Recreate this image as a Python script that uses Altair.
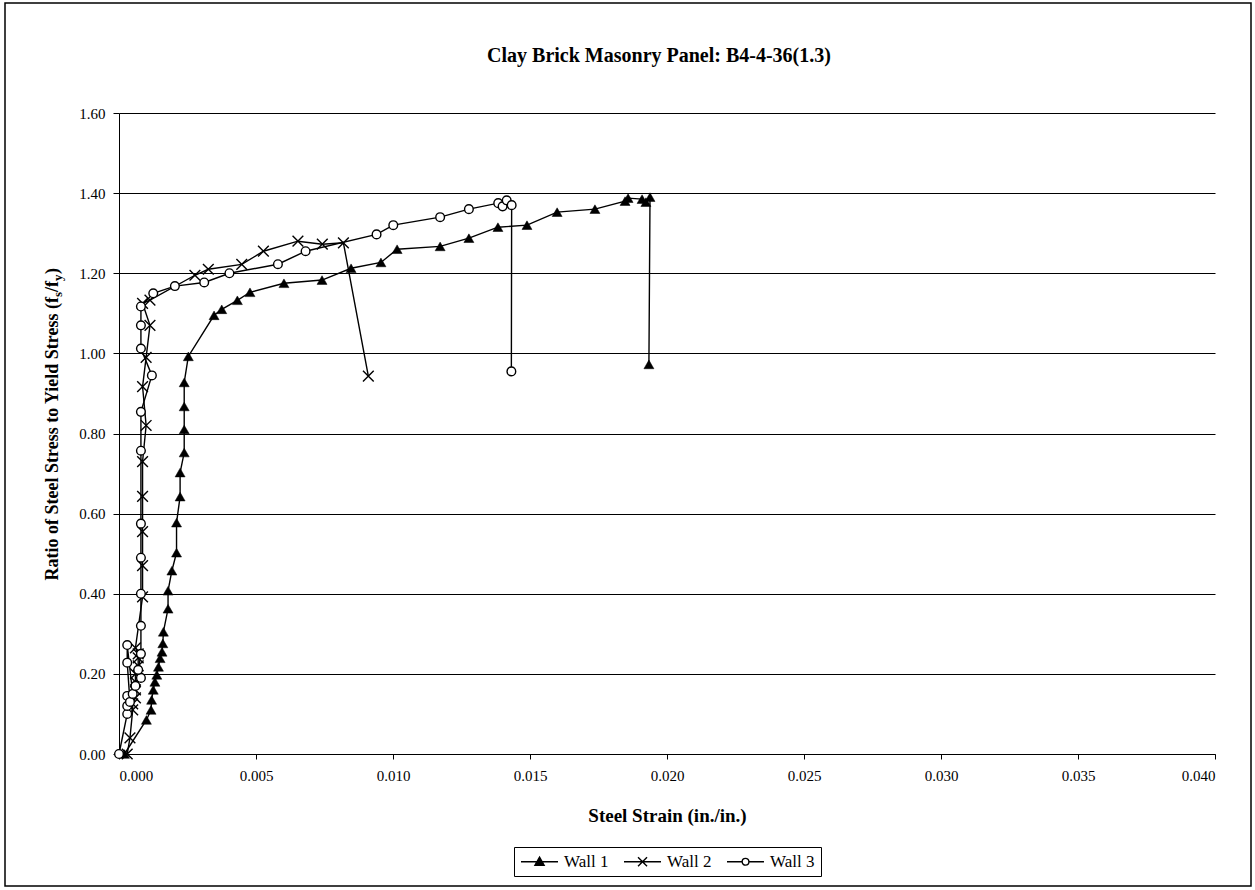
import altair as alt
import pandas as pd

# Series: steel strain (in./in.) vs. ratio of steel stress to yield stress
walls = ["Wall 1", "Wall 2", "Wall 3"]

w1_strain = [0.0002, 0.0010, 0.00117, 0.00119, 0.00125, 0.00131, 0.00138, 0.00144, 0.0015,
             0.00157, 0.0016, 0.00162, 0.00179, 0.00179, 0.00193, 0.0021, 0.0021, 0.00223,
             0.00223, 0.00238, 0.00238, 0.00238, 0.00238, 0.00253, 0.00347, 0.00375, 0.00432,
             0.00478, 0.00602, 0.00741, 0.00847, 0.00956, 0.01015, 0.01172, 0.01277, 0.01383,
             0.01489, 0.01599, 0.01737, 0.01847, 0.01858, 0.01909, 0.01923, 0.01938, 0.01934]
w1_ratio = [0.0, 0.085, 0.11, 0.135, 0.16, 0.18, 0.1975, 0.2175, 0.239, 0.255, 0.276, 0.305,
            0.3625, 0.4075, 0.4575, 0.5025, 0.5775, 0.6425, 0.7025, 0.7525, 0.81, 0.8675,
            0.9275, 0.9925, 1.095, 1.11, 1.1325, 1.1525, 1.175, 1.183, 1.2125, 1.227, 1.26,
            1.267, 1.2875, 1.315, 1.32, 1.3525, 1.36, 1.38, 1.3875, 1.385, 1.3775, 1.39, 0.9725]

w2_strain = [0.0003, 0.0004, 0.0005, 0.0005, 0.0006, 0.0006, 0.0006, 0.0006, 0.0007, 0.0007,
             0.0007, 0.0006, 0.00086, 0.00086, 0.00086, 0.00086, 0.00086, 0.00099, 0.00086,
             0.00099, 0.00113, 0.00086, 0.00113, 0.00277, 0.00326, 0.00448, 0.00527, 0.00653,
             0.00742, 0.00819, 0.0091]
w2_ratio = [0.0, 0.04, 0.11, 0.125, 0.14, 0.16, 0.18, 0.20, 0.22, 0.24, 0.25, 0.265, 0.392,
            0.47, 0.555, 0.643, 0.73, 0.82, 0.917, 0.99, 1.07, 1.125, 1.133, 1.195, 1.21,
            1.222, 1.255, 1.28, 1.2725, 1.276, 0.943]

w3_strain = [0.0000, 0.0003, 0.0003, 0.0003, 0.0004, 0.0003, 0.0003, 0.0005, 0.0006, 0.0008,
             0.0007, 0.0008, 0.0008, 0.0008, 0.0008, 0.0008, 0.0008, 0.0008, 0.0012, 0.0008,
             0.0008, 0.0008, 0.00125, 0.00204, 0.00311, 0.00403, 0.0058, 0.00681, 0.0094,
             0.01001, 0.01172, 0.01277, 0.01384, 0.0140, 0.01415, 0.01433, 0.01432]
w3_ratio = [0.0, 0.10, 0.12, 0.145, 0.13, 0.228, 0.272, 0.15, 0.17, 0.19, 0.21, 0.25, 0.32,
            0.40, 0.49, 0.575, 0.757, 0.854, 0.945, 1.012, 1.07, 1.117, 1.15, 1.168, 1.177,
            1.20, 1.2225, 1.255, 1.297, 1.32, 1.34, 1.36, 1.375, 1.367, 1.382, 1.37, 0.955]

x_ticks = [0.0, 0.005, 0.010, 0.015, 0.020, 0.025, 0.030, 0.035, 0.040]
y_ticks = [0.0, 0.2, 0.4, 0.6, 0.8, 1.0, 1.2, 1.4, 1.6]

rows = []
for name, xs, ys in zip(walls, [w1_strain, w2_strain, w3_strain], [w1_ratio, w2_ratio, w3_ratio]):
    for i, (s, r) in enumerate(zip(xs, ys)):
        rows.append({"wall": name, "strain": s, "ratio": r, "seq": i})
df = pd.DataFrame(rows)

SERIF = "Liberation Serif"
W, H = 1096, 641

x_enc = alt.X(
    "strain:Q",
    scale=alt.Scale(domain=[0, 0.04], nice=False, zero=False),
    axis=alt.Axis(values=x_ticks, format=".3f", grid=False, title="Steel Strain (in./in.)",
                  labelFont=SERIF, labelFontSize=15, labelColor="black", labelPadding=9,
                  tickColor="black", tickSize=5, domainColor="black", domainWidth=1,
                  titleFont=SERIF, titleFontSize=19, titleFontWeight="bold", titleColor="black",
                  titlePadding=23),
)
y_enc = alt.Y(
    "ratio:Q",
    scale=alt.Scale(domain=[0, 1.6], nice=False),
    axis=alt.Axis(values=y_ticks, format=".2f", grid=True, gridColor="black", gridWidth=1,
                  gridOpacity=1, title=None, labelFont=SERIF, labelFontSize=15,
                  labelColor="black", labelPadding=8, tickColor="black", tickSize=6,
                  domainColor="black", domainWidth=1),
)

base = alt.Chart(df)

lines = base.mark_line(color="black", strokeWidth=1.4).encode(
    x=x_enc, y=y_enc, detail="wall:N", order="seq:Q"
)

x_path = "M-1,-1L1,1M-1,1L1,-1"
pts1 = base.transform_filter(alt.datum.wall == "Wall 1").mark_point(
    shape="triangle-up", size=100, filled=True, fill="black", stroke="black", strokeWidth=0.5,
    opacity=1).encode(x=x_enc, y=y_enc)
pts2 = base.transform_filter(alt.datum.wall == "Wall 2").mark_point(
    shape=x_path, size=115, filled=False, stroke="black", strokeWidth=1.4,
    opacity=1).encode(x=x_enc, y=y_enc)
pts3 = base.transform_filter(alt.datum.wall == "Wall 3").mark_point(
    shape="circle", size=75, filled=True, fill="white", stroke="black", strokeWidth=1.4,
    opacity=1).encode(x=x_enc, y=y_enc)

# legend entries: a 37 px line segment with the series marker at its middle;
# symbol size 225 gives 7.5 px per path unit
leg_tri = "M-1,0L3.93,0M1.47,-0.62L2.08,0.47L0.86,0.47Z"
leg_x = "M-1,0L3.93,0M0.87,-0.6L2.07,0.6M0.87,0.6L2.07,-0.6"
leg_circ = ("M-1,0L1.02,0M1.92,0L3.93,0M1.02,0A0.45,0.45 0 1,0 1.92,0"
            "A0.45,0.45 0 1,0 1.02,0Z")
legend_df = pd.DataFrame({"wall": walls, "strain": [-1.0] * 3, "ratio": [0.5] * 3})
leg_props = dict(title=None, orient="none", legendX=395, legendY=734, direction="horizontal",
                 strokeColor="black", padding=6, symbolSize=225, symbolStrokeWidth=1.4,
                 symbolStrokeColor="black", labelFont=SERIF, labelFontSize=17,
                 labelColor="black", labelOffset=27, columnPadding=12, symbolOpacity=1)
legend_layer = alt.Chart(legend_df).mark_point(clip=True, filled=True, strokeWidth=1.4).encode(
    x=x_enc, y=y_enc,
    shape=alt.Shape("wall:N", scale=alt.Scale(domain=walls, range=[leg_tri, leg_x, leg_circ]),
                    legend=alt.Legend(**leg_props)),
    fill=alt.Fill("wall:N", scale=alt.Scale(domain=walls, range=["black", "white", "white"]),
                  legend=alt.Legend(**leg_props)),
    stroke=alt.Stroke("wall:N", scale=alt.Scale(domain=walls, range=["black", "black", "black"]),
                      legend=alt.Legend(**leg_props)),
)

one = alt.Chart(pd.DataFrame({"k": [0]}))

frame = one.mark_rect(fillOpacity=0, stroke="black", strokeWidth=1.5).encode(
    x=alt.value(5 - 119), x2=alt.value(1251 - 119), y=alt.value(3 - 113), y2=alt.value(886 - 113)
)

title = one.mark_text(text="Clay Brick Masonry Panel: B4-4-36(1.3)", font=SERIF, fontSize=20,
                      fontWeight="bold", color="black", align="center",
                      baseline="alphabetic").encode(x=alt.value(540), y=alt.value(-51))

# rotated y-axis title with subscripts s and y
yt_main = one.mark_text(text="Ratio of Steel Stress to Yield Stress (f", font=SERIF, fontSize=18,
                        fontWeight="bold", color="black", angle=270, align="right",
                        baseline="alphabetic").encode(x=alt.value(-61), y=alt.value(297 - 113))
yt_s = one.mark_text(text="s", font=SERIF, fontSize=13, fontWeight="bold", color="black",
                     angle=270, align="left", baseline="alphabetic").encode(
    x=alt.value(-57), y=alt.value(297 - 113))
yt_f = one.mark_text(text="/f", font=SERIF, fontSize=18, fontWeight="bold", color="black",
                     angle=270, align="left", baseline="alphabetic").encode(
    x=alt.value(-61), y=alt.value(292 - 113))
yt_y = one.mark_text(text="y", font=SERIF, fontSize=13, fontWeight="bold", color="black",
                     angle=270, align="left", baseline="alphabetic").encode(
    x=alt.value(-57), y=alt.value(281 - 113))
yt_close = one.mark_text(text=")", font=SERIF, fontSize=18, fontWeight="bold", color="black",
                         angle=270, align="left", baseline="alphabetic").encode(
    x=alt.value(-61), y=alt.value(274 - 113))

chart = alt.layer(
    frame, lines, pts1, pts2, pts3, legend_layer, title, yt_main, yt_s, yt_f, yt_y, yt_close
).properties(
    width=W, height=H, autosize="none",
    padding={"left": 119, "top": 113, "right": 40, "bottom": 136},
    background="white",
).configure_view(strokeWidth=0)

chart.save("out.html", embed_options={"renderer": "svg", "actions": False})
